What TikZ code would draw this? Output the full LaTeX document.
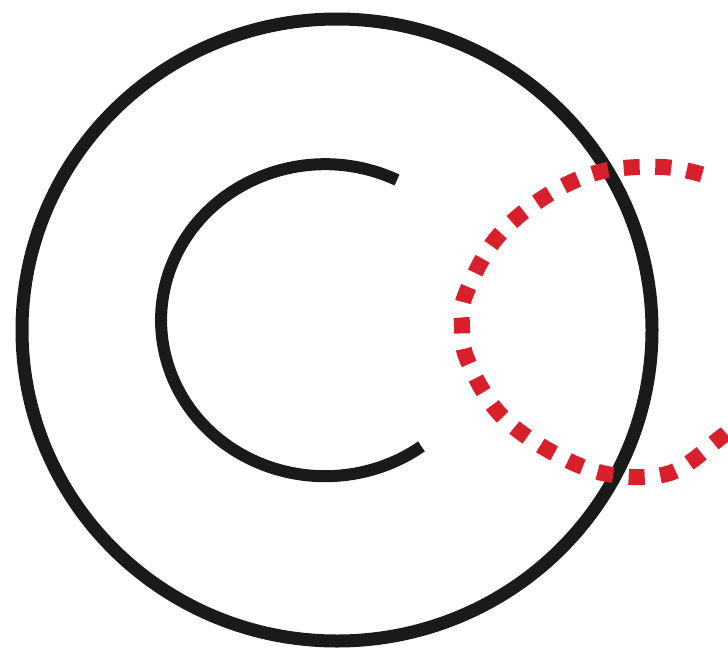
\documentclass[tikz,border=0pt]{standalone}
\usepackage{xcolor}
\usepackage{tikz}

\definecolor{ink}{HTML}{1A1A1A}
\definecolor{dotred}{HTML}{D7202C}

\begin{document}
\begin{tikzpicture}[
  x=1pt, y=-1pt,
  ring/.style={draw=ink, line width=13pt},
  hook/.style={draw=ink, line width=12pt},
  dotpath/.style={draw=dotred, line width=16pt,
                  dash pattern=on 16pt off 15.6pt, dash phase=29.6pt}
]
\useasboundingbox (0,0) rectangle (728,651);

\coordinate (mid) at (337,330);
\coordinate (cstart) at (397,180);

\draw[ring] (mid) ellipse [x radius=315, y radius=311];

\draw[hook] (cstart) arc [start angle=-64, end angle=-306,
                          x radius=164, y radius=156];

\draw[dotpath] plot[smooth, tension=0.6] coordinates {
  (704,175) (662,167) (599,172) (543,198) (495,240) (465,296) (462,325)
  (467,359) (498,412) (548,450) (607,474) (670,473) (720,438) (728,431)};
\end{tikzpicture}
\end{document}
